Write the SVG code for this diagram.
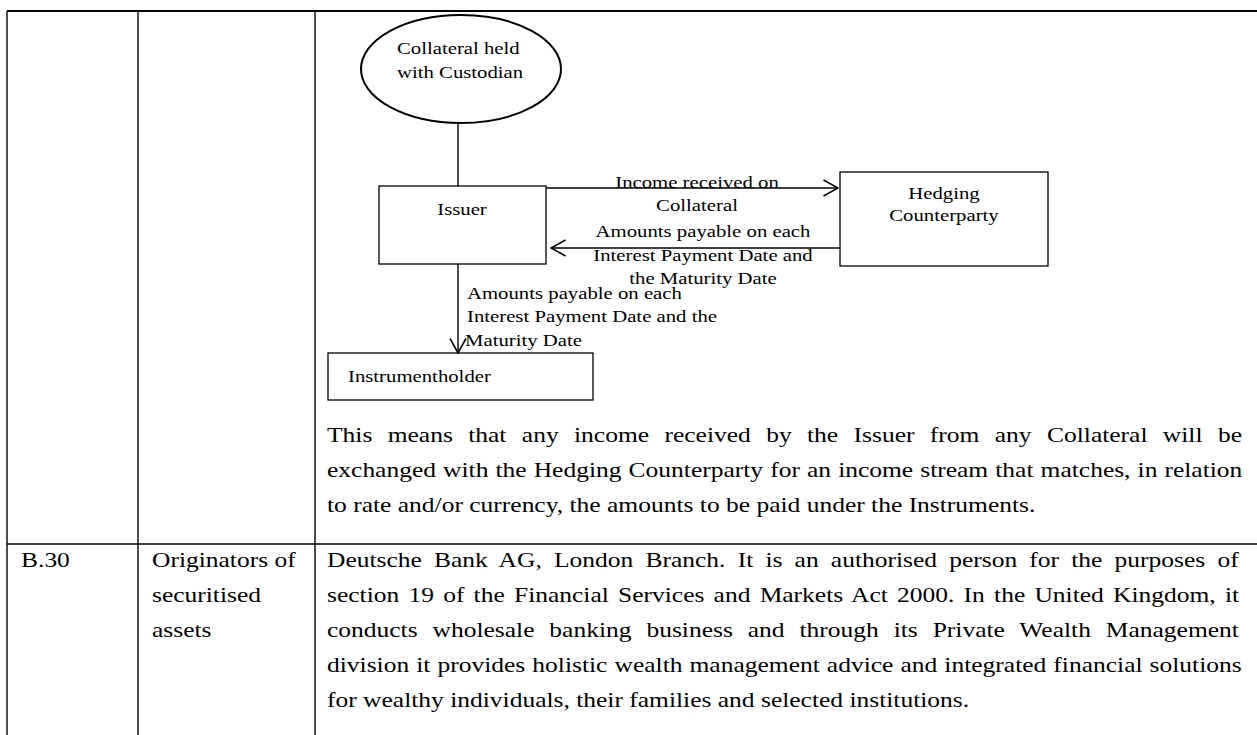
<svg xmlns="http://www.w3.org/2000/svg" width="1257" height="735" viewBox="0 0 1257 735">
<style>
.t{font-family:"Liberation Serif","Times New Roman",serif;fill:#000}
.b{font-size:21.5px}
.d{font-size:17.5px}
.ln{stroke:#000;stroke-width:1.4;fill:none}
.box{stroke:#000;stroke-width:1.3;fill:#fff}
</style>
<defs>
<marker id="arr" viewBox="0 0 16 18" refX="15" refY="9" markerWidth="16" markerHeight="18" markerUnits="userSpaceOnUse" orient="auto">
<path d="M0.5,1 L15,9 L0.5,17" fill="none" stroke="#000" stroke-width="1.6"/>
</marker>
</defs>
<rect width="1257" height="735" fill="#fff"/>
<g id="table">
<line class="ln" x1="7" y1="11" x2="1257" y2="11" style="stroke-width:2"/>
<line class="ln" x1="7" y1="11" x2="7" y2="735"/>
<line class="ln" x1="138" y1="11" x2="138" y2="735"/>
<line class="ln" x1="315" y1="11" x2="315" y2="735"/>
<line class="ln" x1="7" y1="544" x2="1257" y2="544"/>
</g>
<g id="collateral">
<ellipse cx="461" cy="69" rx="100" ry="54" fill="#fff" stroke="#000" stroke-width="2"/>
<text class="t d" transform="translate(397,54) scale(1.186,1)">Collateral held</text>
<text class="t d" transform="translate(397,78) scale(1.186,1)">with Custodian</text>
</g>
<g id="issuer">
<rect class="box" x="379" y="186" width="167" height="78"/>
<text class="t d" text-anchor="middle" transform="translate(462,215) scale(1.186,1)">Issuer</text>
</g>
<g id="hedging">
<rect class="box" x="840" y="172" width="208" height="94"/>
<text class="t d" text-anchor="middle" transform="translate(944,199) scale(1.186,1)">Hedging</text>
<text class="t d" text-anchor="middle" transform="translate(944,221) scale(1.186,1)">Counterparty</text>
</g>
<g id="instrumentholder">
<rect class="box" x="328" y="353" width="265" height="47"/>
<text class="t d" transform="translate(348,382) scale(1.186,1)">Instrumentholder</text>
</g>
<g id="connectors">
<line class="ln" x1="458" y1="123" x2="458" y2="186"/>
<line class="ln" x1="546" y1="188" x2="838" y2="188" marker-end="url(#arr)"/>
<line class="ln" x1="840" y1="248" x2="551" y2="248" marker-end="url(#arr)"/>
<line class="ln" x1="458" y1="264" x2="458" y2="353" marker-end="url(#arr)"/>
</g>
<g id="connector-labels">
<text class="t d" text-anchor="middle" transform="translate(697,188) scale(1.186,1)">Income received on</text>
<text class="t d" text-anchor="middle" transform="translate(697,211) scale(1.186,1)">Collateral</text>
<text class="t d" text-anchor="middle" transform="translate(703,237) scale(1.186,1)">Amounts payable on each</text>
<text class="t d" text-anchor="middle" transform="translate(703,260.5) scale(1.186,1)">Interest Payment Date and</text>
<text class="t d" text-anchor="middle" transform="translate(703,284) scale(1.186,1)">the Maturity Date</text>
<text class="t d" transform="translate(467,298.5) scale(1.186,1)">Amounts payable on each</text>
<text class="t d" transform="translate(467,322) scale(1.186,1)">Interest Payment Date and the</text>
<text class="t d" transform="translate(465,345.5) scale(1.186,1)">Maturity Date</text>
</g>
<g id="paragraph-1">
<text class="t b" transform="translate(327,442) scale(1.186,1)" style="word-spacing:7.6px">This means that any income received by the Issuer from any Collateral will be</text>
<text class="t b" transform="translate(327,477) scale(1.186,1)" style="word-spacing:0.6px">exchanged with the Hedging Counterparty for an income stream that matches, in relation</text>
<text class="t b" transform="translate(327,512) scale(1.186,1)">to rate and/or currency, the amounts to be paid under the Instruments.</text>
</g>
<g id="row-b30">
<text class="t b" transform="translate(21,567) scale(1.186,1)">B.30</text>
<text class="t b" transform="translate(152,567) scale(1.186,1)">Originators of</text>
<text class="t b" transform="translate(152,602) scale(1.186,1)">securitised</text>
<text class="t b" transform="translate(152,637) scale(1.186,1)">assets</text>
<text class="t b" transform="translate(327,567) scale(1.186,1)" style="word-spacing:4.9px">Deutsche Bank AG, London Branch. It is an authorised person for the purposes of</text>
<text class="t b" transform="translate(327,602) scale(1.186,1)" style="word-spacing:2.4px">section 19 of the Financial Services and Markets Act 2000. In the United Kingdom, it</text>
<text class="t b" transform="translate(327,637) scale(1.186,1)" style="word-spacing:7.2px">conducts wholesale banking business and through its Private Wealth Management</text>
<text class="t b" transform="translate(327,672) scale(1.186,1)" style="word-spacing:0.6px">division it provides holistic wealth management advice and integrated financial solutions</text>
<text class="t b" transform="translate(327,707) scale(1.186,1)">for wealthy individuals, their families and selected institutions.</text>
</g>
</svg>
